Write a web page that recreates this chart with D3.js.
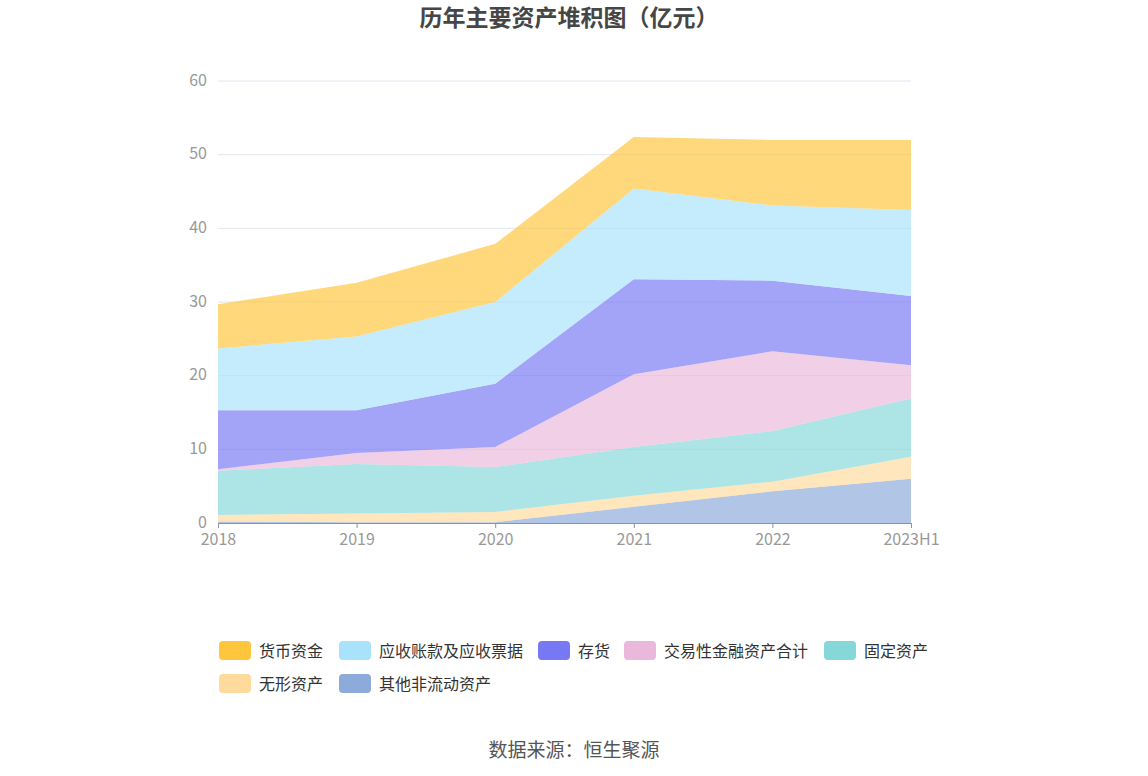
<!DOCTYPE html>
<html>
<head>
<meta charset="utf-8">
<script src="https://cdn.jsdelivr.net/npm/d3@7"></script>
<style>
  body { margin: 0; background: #fff; font-family: "Noto Sans CJK SC", "Noto Sans", sans-serif; }
</style>
</head>
<body>
<div id="chart"></div>
<script>
// categories and series (亿元), listed in legend order
const years = ["2018", "2019", "2020", "2021", "2022", "2023H1"];
const seriesNames = ["货币资金", "应收账款及应收票据", "存货", "交易性金融资产合计", "固定资产", "无形资产", "其他非流动资产"];
const cash        = [6.0, 7.3, 7.9, 7.0, 8.9, 9.5];
const receivables = [8.4, 10.0, 11.1, 12.3, 10.2, 11.7];
const inventory   = [8.0, 5.8, 8.6, 12.9, 9.6, 9.4];
const tradingFin  = [0.2, 1.5, 2.7, 9.9, 10.8, 4.5];
const fixedAssets = [6.0, 6.7, 6.1, 6.6, 6.9, 7.9];
const intangible  = [0.9, 1.2, 1.4, 1.5, 1.3, 3.0];
const otherNonCur = [0.2, 0.1, 0.1, 2.2, 4.3, 6.0];
const yTicks = [0, 10, 20, 30, 40, 50, 60];

const seriesValues = [cash, receivables, inventory, tradingFin, fixedAssets, intangible, otherNonCur];
const colors = ["#FFC53D", "#A9E3FB", "#7778F4", "#EAB8DA", "#86D7D8", "#FFDA9C", "#8CABDA"];

const W = 1148, H = 776;
const MARGIN = { LEFT: 218, RIGHT: 237, TOP: 81, BOTTOM: 253 };
const innerW = W - MARGIN.LEFT - MARGIN.RIGHT;
const innerH = H - MARGIN.TOP - MARGIN.BOTTOM;

const svg = d3.select("#chart").append("svg")
    .attr("width", W)
    .attr("height", H);

// title
svg.append("text")
    .attr("x", W / 2 - 5)
    .attr("y", 26)
    .attr("text-anchor", "middle")
    .style("font-size", "23px")
    .style("font-weight", "bold")
    .style("fill", "#464646")
    .text("历年主要资产堆积图（亿元）");

const g = svg.append("g")
    .attr("transform", `translate(${MARGIN.LEFT}, ${MARGIN.TOP})`);

const x = d3.scalePoint().domain(years).range([0, innerW]);
const y = d3.scaleLinear().domain([0, 60]).range([innerH, 0]);

// grid lines
g.append("g")
    .selectAll("line")
    .data(yTicks.filter(d => d > 0))
    .join("line")
    .attr("x1", 0)
    .attr("x2", innerW)
    .attr("y1", d => y(d))
    .attr("y2", d => y(d))
    .attr("stroke", "#E0E6F1");

// stack: bottom is the last legend item
const rows = years.map((yr, i) => {
    const r = { year: yr };
    seriesNames.forEach((n, k) => r[n] = seriesValues[k][i]);
    return r;
});
const stackOrder = seriesNames.slice().reverse();
const stacked = d3.stack().keys(stackOrder)(rows);

const area = d3.area()
    .x(d => x(d.data.year))
    .y0(d => y(d[0]))
    .y1(d => y(d[1]));

g.append("g")
    .selectAll("path")
    .data(stacked)
    .join("path")
    .attr("d", area)
    .attr("fill", d => colors[seriesNames.indexOf(d.key)])
    .attr("fill-opacity", 0.68);

// y axis labels
g.append("g")
    .selectAll("text")
    .data(yTicks)
    .join("text")
    .attr("x", -11)
    .attr("y", d => y(d) - 1)
    .attr("dy", "0.35em")
    .attr("text-anchor", "end")
    .style("font-size", "16px")
    .style("fill", "#999")
    .text(d => d);

// x axis
const xAxis = g.append("g")
    .attr("transform", `translate(0, ${innerH})`)
    .call(d3.axisBottom(x).tickSize(5).tickPadding(6));
xAxis.select(".domain").attr("stroke", "#8593B0");
xAxis.selectAll(".tick line").attr("stroke", "#8593B0");
xAxis.selectAll(".tick text")
    .style("font-size", "16px")
    .style("fill", "#999")
    .style("font-family", "\"Noto Sans CJK SC\", sans-serif");

// legend
const legendPos = [
    [219, 651], [339, 651], [538, 651], [624, 651], [824, 651],
    [219, 684], [339, 684]
];
const legend = svg.append("g")
    .selectAll("g")
    .data(seriesNames)
    .join("g")
    .attr("transform", (d, i) => `translate(${legendPos[i][0]}, ${legendPos[i][1]})`);

legend.append("rect")
    .attr("x", 0)
    .attr("y", -10)
    .attr("width", 32)
    .attr("height", 19)
    .attr("rx", 4)
    .attr("fill", (d, i) => colors[i]);

legend.append("text")
    .attr("x", 40)
    .attr("y", 0)
    .attr("dy", "0.35em")
    .style("font-size", "16px")
    .style("fill", "#333")
    .text(d => d);

// source note
svg.append("text")
    .attr("x", W / 2)
    .attr("y", 757)
    .attr("text-anchor", "middle")
    .style("font-size", "19px")
    .style("fill", "#555")
    .text("数据来源：恒生聚源");
</script>
</body>
</html>
